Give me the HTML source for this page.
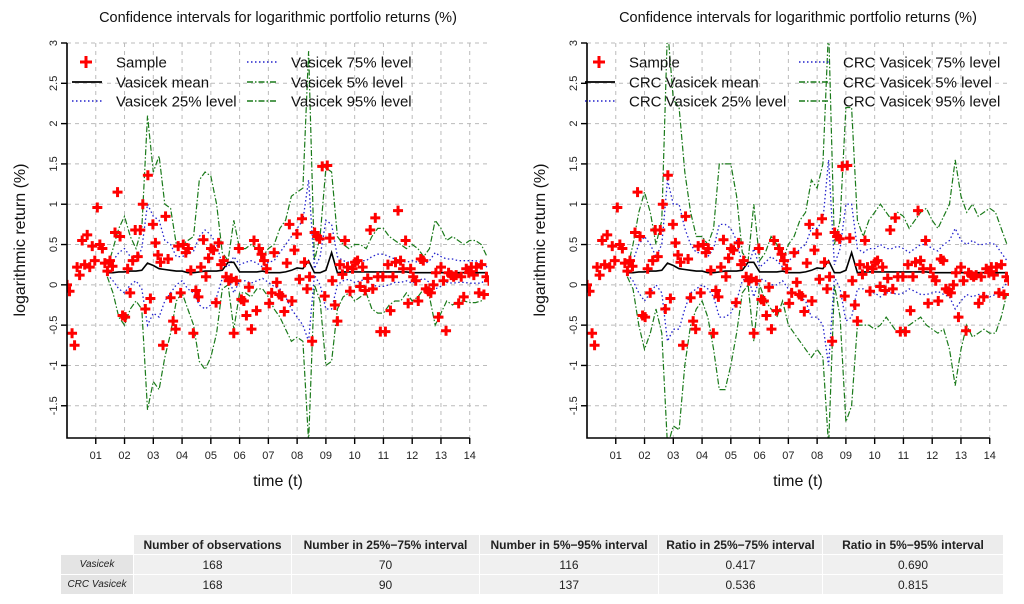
<!DOCTYPE html>
<html><head><meta charset="utf-8">
<style>
body{margin:0;background:#fff;width:1024px;height:604px;overflow:hidden;font-family:"Liberation Sans",sans-serif}
svg{position:absolute;left:0;top:0}
table{position:absolute;left:60px;top:534px;border-collapse:separate;border-spacing:1px;font-size:12px;color:#222}
td,th{height:19px;padding:0 4px;text-align:center;white-space:nowrap}
th{background:#ececec;font-weight:bold}
th.blank{background:#fff}
td{background:#f0f0f0}
td.lab{background:#e4e4e4;font-style:italic;font-size:10px;width:64px}
</style></head><body>
<svg id="chart" width="1024" height="530"></svg>
<table>
<tr><th class="blank"></th><th style="width:149px">Number of observations</th><th style="width:179px">Number in 25%−75% interval</th><th style="width:170px">Number in 5%−95% interval</th><th style="width:155px">Ratio in 25%−75% interval</th><th style="width:172px">Ratio in 5%−95% interval</th></tr>
<tr><td class="lab">Vasicek</td><td>168</td><td>70</td><td>116</td><td>0.417</td><td>0.690</td></tr>
<tr><td class="lab">CRC Vasicek</td><td>168</td><td>90</td><td>137</td><td>0.536</td><td>0.815</td></tr>
</table>
<script>
const sample=[0.0,-0.08,-0.6,-0.75,0.22,0.12,0.55,0.25,0.62,0.22,0.48,0.3,
0.96,0.5,0.45,0.27,0.17,0.3,0.23,0.65,1.15,0.6,-0.38,-0.4,
0.2,-0.1,0.3,0.68,0.35,0.68,1.0,-0.3,1.36,-0.17,0.75,0.52,
0.37,0.28,-0.75,0.85,0.32,-0.16,-0.45,-0.55,0.48,-0.1,0.5,0.4,
0.45,0.18,-0.6,-0.07,-0.15,0.22,0.56,0.1,0.33,0.45,0.43,-0.22,
0.52,0.25,0.3,0.1,0.05,0.08,-0.6,0.05,0.45,-0.18,-0.2,-0.38,
-0.03,-0.55,0.55,-0.32,0.45,0.38,0.3,0.2,-0.23,-0.1,0.4,0.03,
-0.12,-0.14,-0.33,0.27,0.75,-0.2,0.43,0.63,0.07,0.82,0.28,-0.05,
0.1,-0.7,0.65,0.6,0.57,1.47,-0.14,1.48,0.58,0.05,-0.25,-0.45,
0.25,0.13,0.55,0.22,-0.08,0.2,0.28,0.3,-0.02,0.22,-0.07,0.08,
0.68,-0.05,0.83,0.1,-0.58,0.1,-0.58,0.25,-0.32,0.1,0.28,0.92,
0.3,0.2,0.55,-0.23,0.2,0.1,0.05,-0.2,0.32,0.3,-0.05,-0.08,
-0.1,0.0,0.15,-0.4,0.22,0.05,-0.57,0.15,0.12,0.1,0.12,-0.23,
0.1,-0.15,0.2,0.15,0.22,0.12,0.22,-0.1,0.25,-0.12,0.1,0.05];
const xTicks=["01","02","03","04","05","06","07","08","09","10","11","12","13","14"];
const yTicks=[3,2.5,2,1.5,1,0.5,0,-0.5,-1,-1.5];
const bandStart=1.4, bandStep=0.2;
const meanV=[0.15,0.15,0.16,0.16,0.17,0.17,0.18,0.27,0.24,0.2,0.19,0.18,0.17,0.17,0.15,0.15,0.16,0.17,0.17,0.17,0.18,0.28,0.28,0.16,0.16,0.16,0.16,0.17,0.15,0.15,0.15,0.16,0.18,0.21,0.2,0.3,0.15,0.15,0.18,0.4,0.15,0.16,0.16,0.16,0.16,0.16,0.16,0.16,0.16,0.16,0.16,0.16,0.16,0.15,0.15,0.15,0.15,0.15,0.15,0.15,0.15,0.15,0.15,0.15,0.15,0.15,0.15];
const L95=[0.2,0.45,0.7,0.85,0.6,0.45,0.7,2.1,1.4,1.6,1.0,0.95,0.5,0.5,0.55,0.6,1.3,1.4,1.35,1.0,0.4,0.3,0.8,0.45,0.45,0.5,0.45,0.35,0.45,0.5,0.7,0.8,1.1,1.15,1.2,2.9,0.3,0.6,1.45,1.4,0.6,0.5,0.45,0.5,0.5,0.45,0.6,0.7,0.7,0.6,0.55,0.5,0.45,0.5,0.45,0.35,0.45,0.8,0.7,0.55,0.6,0.55,0.5,0.55,0.55,0.5,0.35];
const L5=[0.1,-0.1,-0.4,-0.5,-0.3,-0.2,-0.3,-1.55,-1.2,-1.3,-0.9,-0.6,-0.2,-0.1,-0.3,-0.5,-0.95,-1.05,-0.9,-0.6,-0.05,0.0,-0.55,-0.1,-0.1,-0.15,-0.05,-0.05,-0.15,-0.3,-0.4,-0.55,-0.7,-0.65,-0.7,-1.95,0.0,-0.2,-1.0,-0.95,-0.3,-0.15,-0.1,-0.2,-0.15,-0.1,-0.3,-0.35,-0.35,-0.25,-0.2,-0.2,-0.1,-0.2,-0.15,-0.05,-0.15,-0.5,-0.35,-0.2,-0.25,-0.2,-0.2,-0.22,-0.22,-0.2,-0.1];
const L75=[0.17,0.3,0.4,0.45,0.35,0.3,0.45,1.0,0.85,0.8,0.55,0.5,0.35,0.35,0.38,0.42,0.6,0.68,0.62,0.5,0.25,0.22,0.35,0.25,0.28,0.3,0.27,0.22,0.28,0.3,0.4,0.5,0.6,0.7,0.8,1.3,0.2,0.35,0.8,0.75,0.35,0.3,0.28,0.3,0.3,0.3,0.35,0.38,0.38,0.35,0.32,0.3,0.28,0.3,0.28,0.25,0.3,0.4,0.35,0.32,0.32,0.3,0.3,0.3,0.3,0.28,0.22];
const L25=[0.13,0.05,-0.05,-0.1,0.0,0.05,-0.05,-0.5,-0.35,-0.4,-0.2,-0.1,0.0,0.05,-0.05,-0.1,-0.25,-0.3,-0.25,-0.15,0.08,0.1,-0.1,0.05,0.05,0.02,0.05,0.08,0.03,-0.02,-0.05,-0.15,-0.3,-0.4,-0.5,-0.7,0.12,0.0,-0.3,-0.3,0.0,0.05,0.07,0.03,0.05,0.07,0.0,-0.02,-0.02,0.0,0.03,0.03,0.05,0.02,0.05,0.08,0.03,-0.05,-0.02,0.03,0.02,0.03,0.03,0.02,0.02,0.02,0.08];
const R95=[0.2,0.5,0.9,1.15,0.9,0.5,0.8,3.2,2.3,2.2,1.4,0.9,0.6,0.6,0.5,0.7,1.5,1.5,1.5,1.1,0.4,0.3,1.0,0.3,0.4,0.6,0.5,0.3,0.5,0.6,0.8,0.9,1.3,1.2,1.5,3.2,0.5,0.8,2.2,2.2,0.8,0.6,0.8,0.9,1.0,0.9,0.8,0.9,0.85,0.7,0.8,0.9,0.95,0.8,0.7,0.85,1.0,1.55,1.1,0.9,1.0,0.85,0.9,0.95,0.9,0.7,0.5];
const R5=[0.1,-0.05,-0.5,-0.8,-0.6,-0.3,-0.6,-2.0,-1.75,-1.8,-1.0,-0.5,-0.3,-0.2,-0.4,-0.8,-1.3,-1.3,-1.0,-0.6,-0.1,0.0,-0.7,0.0,-0.2,-0.3,-0.4,-0.2,-0.5,-0.6,-0.7,-0.8,-0.9,-0.8,-0.9,-2.0,0.0,-0.4,-1.7,-1.5,-0.5,-0.5,-0.5,-0.55,-0.5,-0.4,-0.5,-0.6,-0.55,-0.5,-0.45,-0.4,-0.5,-0.55,-0.6,-0.55,-0.8,-1.25,-0.8,-0.5,-0.65,-0.6,-0.55,-0.6,-0.6,-0.4,-0.1];
const R75=[0.17,0.3,0.5,0.6,0.5,0.35,0.5,1.3,1.0,1.0,0.7,0.5,0.4,0.4,0.35,0.45,0.75,0.75,0.7,0.55,0.25,0.22,0.45,0.22,0.28,0.35,0.3,0.22,0.3,0.35,0.45,0.5,0.7,0.7,0.8,1.55,0.25,0.45,1.0,1.0,0.45,0.4,0.45,0.45,0.5,0.45,0.45,0.48,0.45,0.4,0.45,0.5,0.5,0.45,0.42,0.5,0.55,0.7,0.55,0.5,0.55,0.5,0.5,0.52,0.5,0.4,0.3];
const R25=[0.13,0.05,-0.1,-0.2,-0.1,0.0,-0.1,-0.7,-0.55,-0.55,-0.3,-0.1,-0.05,0.0,-0.05,-0.15,-0.4,-0.4,-0.35,-0.2,0.05,0.1,-0.15,0.08,0.05,0.0,0.0,0.05,-0.05,-0.1,-0.15,-0.2,-0.4,-0.4,-0.5,-1.0,0.1,-0.05,-0.45,-0.4,-0.05,-0.05,-0.1,-0.1,-0.15,-0.1,-0.1,-0.12,-0.1,-0.05,-0.08,-0.12,-0.12,-0.1,-0.08,-0.12,-0.15,-0.3,-0.2,-0.12,-0.15,-0.12,-0.12,-0.15,-0.12,-0.05,0.02];

const NS="http://www.w3.org/2000/svg";
const svg=document.getElementById('chart');
function mk(tag,attrs,parent){const e=document.createElementNS(NS,tag);for(const k in attrs)e.setAttribute(k,attrs[k]);(parent||svg).appendChild(e);return e;}
const X0=67,W=422,Y0=43,H=395,XMAX=14.67,YMIN=-1.9,YMAX=3;
function drawPanel(off,prefix,m,u75,l25,u95,l5,name,c1,c2){
  const g=mk('g',{});
  
  
  const xs=v=>off+X0+v/XMAX*W, ys=v=>Y0+(YMAX-v)/(YMAX-YMIN)*H;
  const cp=mk('clipPath',{id:'cp'+off},g);mk('rect',{x:off+X0,y:Y0,width:W,height:H},cp);
  for(let i=0;i<=xTicks.length;i++){const l=mk('line',{x1:xs(i),x2:xs(i),y1:Y0,y2:Y0+H,stroke:'#bbb','stroke-dasharray':'4,4'},g);}
  yTicks.forEach(v=>{const l=mk('line',{x1:off+X0,x2:off+X0+W,y1:ys(v),y2:ys(v),stroke:'#bbb','stroke-dasharray':'4,4'},g);});
  const pg=mk('g',{'clip-path':'url(#cp'+off+')'},g);
  const bt=i=>bandStart+i*bandStep;
  function line(arr,color,dash,w,nm){const n=arr.length;let d='';for(let i=0;i<n;i++)d+=(i?'L':'M')+xs(bt(i)).toFixed(1)+','+ys(arr[i]).toFixed(1);
    const p=mk('path',{d:d,fill:'none',stroke:color,'stroke-width':w,'stroke-dasharray':dash},pg);}
  line(u95,'#1a7a1a','6,2,1.5,2',1.2,'line-95');
  line(l5,'#1a7a1a','6,2,1.5,2',1.2,'line-5');
  line(u75,'#2222cc','1.5,2.5',1.3,'line-75');
  line(l25,'#2222cc','1.5,2.5',1.3,'line-25');
  line(m,'#000','',1.6,'line-mean');
  sample.forEach((v,i)=>{const cx=xs(i*XMAX/(sample.length-1)),cy=ys(v);
    const p=mk('path',{d:`M${cx-5},${cy}H${cx+5}M${cx},${cy-5}V${cy+5}`,stroke:'#f00','stroke-width':3},pg);
    });
  const ax=mk('path',{d:`M${off+X0},${Y0}V${Y0+H}H${xs(14)}`,stroke:'#000','stroke-width':1.6,fill:'none'},g);
  
  xTicks.forEach((t,i)=>{mk('line',{x1:xs(i+1),x2:xs(i+1),y1:Y0+H,y2:Y0+H+6,stroke:'#000','stroke-width':1.4},g);
    const tx=mk('text',{x:xs(i+1),y:Y0+H+21,'font-size':11,'text-anchor':'middle',fill:'#222'},g);tx.textContent=t;
    });
  yTicks.forEach(v=>{mk('line',{x1:off+X0-6,x2:off+X0,y1:ys(v),y2:ys(v),stroke:'#000','stroke-width':1.4},g);
    const tx=mk('text',{x:off+X0-10,y:ys(v),'font-size':11,'text-anchor':'middle',fill:'#222',transform:`rotate(-90 ${off+X0-10} ${ys(v)})`},g);tx.textContent=String(v);
    });
  const ti=mk('text',{x:off+278,y:22,'font-size':14.5,'text-anchor':'middle',fill:'#111'},g);ti.textContent='Confidence intervals for logarithmic portfolio returns (%)';
  
  const xt=mk('text',{x:off+278,y:486,'font-size':16,'text-anchor':'middle',fill:'#111'},g);xt.textContent='time (t)';
  
  const yt=mk('text',{x:off+25,y:240,'font-size':16,'text-anchor':'middle',fill:'#111',transform:`rotate(-90 ${off+25} 240)`},g);yt.textContent='logarithmic return (%)';
  
  const lg=mk('g',{},g);
  const entries=[[c1,62,'plus','Sample'],[c1,82,'mean',prefix+'mean'],[c1,101,'dot',prefix+'25% level'],[c2,62,'dot',prefix+'75% level'],[c2,82,'dd',prefix+'5% level'],[c2,101,'dd',prefix+'95% level']];
  entries.forEach(([x,y,k,t])=>{x+=off;
    if(k==='plus')mk('path',{d:`M${x+14-6},${y}H${x+14+6}M${x+14},${y-6}V${y+6}`,stroke:'#f00','stroke-width':3},lg);
    else mk('line',{x1:x,x2:x+30,y1:y,y2:y,stroke:k==='mean'?'#000':k==='dot'?'#2222cc':'#1a7a1a','stroke-width':k==='mean'?1.8:1.4,'stroke-dasharray':k==='mean'?'':k==='dot'?'1.5,2.5':'6,2,1.5,2'},lg);
    const tx=mk('text',{x:x+44,y:y+5.5,'font-size':15,fill:'#111'},lg);tx.textContent=t;
    });
}
drawPanel(0,'Vasicek ',meanV,L75,L25,L95,L5,'vasicek-chart',72,247);
drawPanel(520,'CRC Vasicek ',meanV,R75,R25,R95,R5,'crc-vasicek-chart',65,279);
</script>
</body></html>
